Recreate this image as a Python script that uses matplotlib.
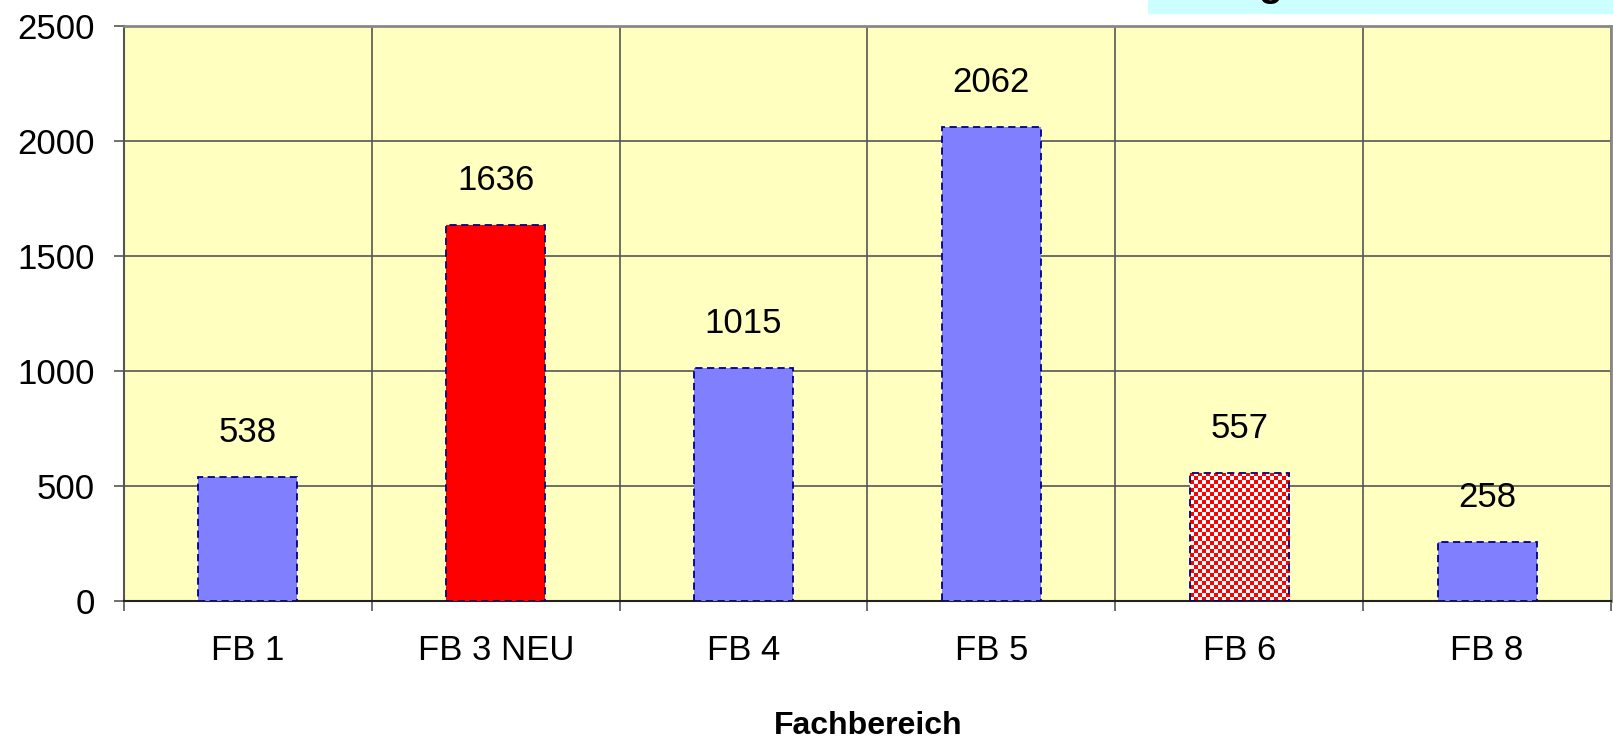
import numpy as np
import matplotlib.pyplot as plt
from matplotlib.patches import Rectangle

categories = ['FB 1', 'FB 3 NEU', 'FB 4', 'FB 5', 'FB 6', 'FB 8']
values = [538, 1636, 1015, 2062, 557, 258]
fills = ['#8080ff', '#ff0000', '#8080ff', '#8080ff', 'checker', '#8080ff']

plt.rcParams['font.family'] = ['Liberation Sans', 'DejaVu Sans']

W, H = 1613, 742
fig = plt.figure(figsize=(W / 100, H / 100), dpi=100)
ax = fig.add_axes([124 / W, 1 - 601 / H, (1611 - 124) / W, (601 - 26) / H])
ax.set_facecolor('#ffffc0')

x = np.arange(len(categories))
colors = ['white' if f == 'checker' else f for f in fills]
bars = ax.bar(x, values, width=0.4, color=colors, edgecolor='#000080',
              linestyle=(0, (4, 2.5)), linewidth=1.3, zorder=3)

ax.set_xlim(-0.5, len(categories) - 0.5)
ax.set_ylim(0, 2500)

# checkered fill for FB 6
for b, f in zip(bars, fills):
    if f != 'checker':
        continue
    x0, w, h = b.get_x(), b.get_width(), b.get_height()
    p0 = ax.transData.transform((x0, 0))
    p1 = ax.transData.transform((x0 + w, h))
    nx = int(round((p1[0] - p0[0]) / 4))
    ny = int(round((p1[1] - p0[1]) / 4))
    chk = (np.indices((ny, nx)).sum(axis=0) % 2).astype(float)
    cmap = plt.matplotlib.colors.ListedColormap(['#ff0000', '#ffffff'])
    im = ax.imshow(chk, extent=(x0, x0 + w, 0, h), cmap=cmap, aspect='auto',
                   interpolation='nearest', zorder=2.5)
    im.set_clip_path(b)
    b.set_facecolor('none')

for xi, v in zip(x, values):
    ax.annotate(str(v), (xi, v), xytext=(0, 32), textcoords='offset points',
                ha='center', va='center', fontsize=25, zorder=4)

ax.set_yticks(range(0, 2501, 500))
ax.set_xticks(x)
ax.set_xticklabels(categories)
ax.set_xticks(np.arange(-0.5, len(categories), 1), minor=True)
ax.tick_params(axis='x', which='major', length=0, pad=24, labelsize=25)
ax.tick_params(axis='x', which='minor', length=7, width=1.2, color='#555555')
ax.tick_params(axis='y', length=7, width=1.2, color='#555555', pad=14, labelsize=25)

ax.grid(axis='x', which='minor', color='#555555', linewidth=1.2, zorder=1)
ax.grid(axis='y', which='major', color='#555555', linewidth=1.2, zorder=1)
ax.set_axisbelow(True)

for s in ['top', 'right']:
    ax.spines[s].set_color('#888888')
    ax.spines[s].set_linewidth(2)
ax.spines['left'].set_color('#555555')
ax.spines['left'].set_linewidth(1.5)
ax.spines['bottom'].set_color('#222222')
ax.spines['bottom'].set_linewidth(1.5)

fig.text(868 / W, 1 - 726 / H, 'Fachbereich', ha='center', va='center',
         fontsize=23, fontweight='bold')

# cut-off title box at the top right
fig.patches.append(Rectangle((1148 / W, 1 - 13 / H), 1, 13 / H,
                             transform=fig.transFigure, color='#ccffff', zorder=0))
fig.text(1270 / W, 1 + 4 / H, 'g', ha='center', va='baseline',
         fontsize=28, fontweight='bold')

fig.savefig('out.png', dpi=100)
